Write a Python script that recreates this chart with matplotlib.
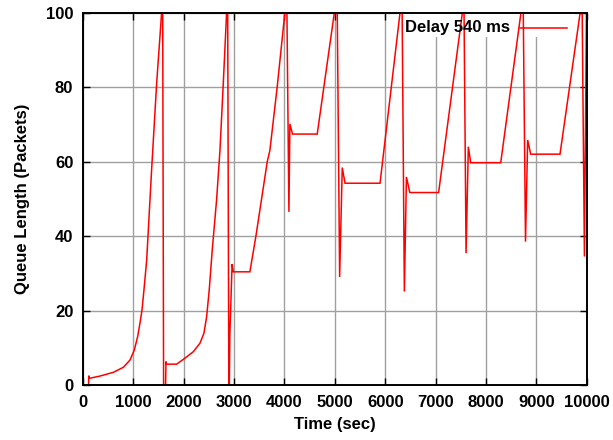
import matplotlib
matplotlib.use("Agg")
import matplotlib.pyplot as plt
from matplotlib.patches import Rectangle

# ---- data ----
time_sec = [0, 0, 20, 110, 115, 130, 337, 602, 800, 933, 1019, 1085, 1131, 1171, 1210,
            1264, 1363, 1462, 1561, 1580, 1600, 1640, 1647, 1655, 1673, 1859, 2024, 2190,
            2321, 2401, 2454, 2506, 2566, 2652, 2719, 2785, 2851, 2870, 2895, 2905, 2915,
            2960, 2985, 3313, 3433, 3658, 3710, 3855, 4008, 4040, 4088, 4107, 4160, 4650,
            4990, 5040, 5095, 5147, 5202, 5897, 6294, 6330, 6380, 6421, 6488, 7060, 7532,
            7560, 7605, 7650, 7697, 8293, 8695, 8735, 8785, 8828, 8888, 9470, 9870, 9905,
            9955, 9995, 10000]
queue_pkts = [110, 0, 0, 0, 2.5, 1.8, 2.4, 3.4, 4.75, 6.7, 9.4, 13.0, 16.6, 20.1, 25.5,
              33.5, 58.0, 81.0, 100, 112, 0, 0, 6.3, 5.6, 5.6, 5.6, 7.2, 8.95,
              11.2, 13.9, 18.3, 25.5, 36.3, 49.7, 63.0, 81.0, 100, 112, 0, 0, 13.4,
              32.5, 30.4, 30.4, 40.0, 60.0, 63.0, 80.0, 100, 112, 46.5, 70.1, 67.4, 67.4,
              100, 112, 29.0, 58.4, 54.2, 54.2, 100, 110, 25.1, 55.9, 51.7, 51.7, 100,
              108, 35.4, 64.0, 59.7, 59.7, 100, 108, 38.5, 65.8, 62.0, 62.0, 100, 108,
              34.5, 100, 110]
series_label = "Delay 540 ms"
x_ticks = [0, 1000, 2000, 3000, 4000, 5000, 6000, 7000, 8000, 9000, 10000]
y_ticks = [0, 20, 40, 60, 80, 100]

plt.rcParams['font.family'] = ['Liberation Sans', 'DejaVu Sans']
plt.rcParams['font.weight'] = 'bold'
FS = 12

fig = plt.figure(figsize=(6.13, 4.40), dpi=100)
ax = fig.add_axes([83/613, 55/440, 503.7/613, 372.3/440])

ax.plot(time_sec, queue_pkts, color='#ff0000', lw=1.1, zorder=2, solid_joinstyle='miter')

ax.set_xlim(0, 10000)
ax.set_ylim(0, 100)
ax.set_xticks(x_ticks)
ax.set_yticks(y_ticks)
ax.set_xticklabels([str(v) for v in x_ticks], fontsize=FS, fontweight='bold')
ax.set_yticklabels([str(v) for v in y_ticks], fontsize=FS, fontweight='bold')
ax.tick_params(direction='in', length=5, width=1.0, top=True, right=True,
               color='black')
ax.tick_params(axis='x', pad=7)
ax.tick_params(axis='y', pad=7)

ax.set_axisbelow(True)
ax.grid(True, color='#a0a0a0', lw=1.0)
for s in ax.spines.values():
    s.set_linewidth(1.4)
    s.set_color('black')
    s.set_zorder(4)

ax.set_xlabel('Time (sec)', fontsize=FS, fontweight='bold', labelpad=5)
ax.set_ylabel('Queue Length (Packets)', fontsize=FS, fontweight='bold', labelpad=11)

# key (gnuplot-style: text then line sample, opaque background under data)
ax.add_patch(Rectangle((0.625, 0.935), 0.352, 0.065, transform=ax.transAxes,
                       facecolor='white', edgecolor='none', zorder=1))
ax.text(0.848, 0.959, series_label, transform=ax.transAxes, ha='right', va='center',
        fontsize=FS, fontweight='bold', zorder=3)
ax.plot([0.868, 0.961], [0.959, 0.959], transform=ax.transAxes, color='#ff0000',
        lw=1.1, zorder=3)

fig.savefig('out.png', dpi=100)
